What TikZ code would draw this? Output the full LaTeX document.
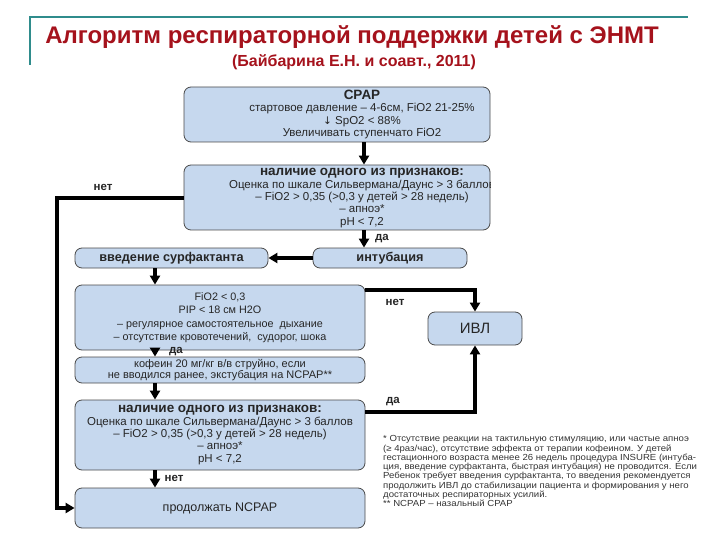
\documentclass[tikz,border=0pt]{standalone}
\usepackage{fontspec}
\setmainfont{Liberation Sans}
\newfontfamily\djv{DejaVu Sans}
\usetikzlibrary{arrows.meta}
\definecolor{boxfill}{HTML}{C6D8EE}
\definecolor{boxline}{HTML}{4A4A4A}
\definecolor{titlered}{HTML}{A5121C}
\definecolor{tealline}{HTML}{2F8C8C}
\newcommand\hdfont{\fontsize{13.5}{13}\selectfont\bfseries}
\tikzset{
  box/.style={draw=boxline, line width=0.8pt, fill=boxfill, rounded corners=7pt, align=center, inner sep=0.5pt, font=\fontsize{11.5}{12.3}\selectfont, text=black!85},
  boxtext/.style={align=center, inner sep=0pt, font=\fontsize{11.5}{12.3}\selectfont, text=black!85},
  flow/.style={line width=3.5pt, -{Triangle[length=9pt,width=10pt]}},
  lbl/.style={font=\fontsize{11.5}{12}\selectfont\bfseries, text=black!85, inner sep=0pt},
  head/.style={font=\fontsize{12.7}{13}\selectfont\bfseries}
}
\begin{document}
\begin{tikzpicture}[x=1pt,y=-1pt]
\useasboundingbox (0,0) rectangle (720,540);
% title frame
\draw[tealline, line width=1.5pt] (30,65) -- (30,17) -- (688,17);
\node[text=titlered, font=\fontsize{24}{26}\selectfont\bfseries] (title) at (352,37) {Алгоритм респираторной поддержки детей с ЭНМТ};
\node[text=titlered, font=\fontsize{16}{17}\selectfont\bfseries] (sub) at (354,62) {(Байбарина Е.Н. и соавт., 2011)};
% boxes
\node[box, minimum width=306pt, minimum height=55pt] (cpap) at (337,114.5) {};
\node[boxtext, font=\fontsize{11.5}{12.5}\selectfont] (cpapt) at (362,114.5) {{\hdfont CPAP}\\стартовое давление – 4-6см, FiO2 21-25\%\\{\djv\fontsize{10.5}{12}\selectfont ↓} SpO2 < 88\%\\Увеличивать ступенчато FiO2};
\node[box, minimum width=306pt, minimum height=65pt] (nal1) at (337,197.5) {};
\begin{scope}
\clip[rounded corners=7pt] (nal1.north west) rectangle (nal1.south east);
\node[boxtext] (nal1t) at (362,198) {{\hdfont наличие одного из признаков:}\\Оценка по шкале Сильвермана/Даунс > 3 баллов\\– FiO2 > 0,35 (>0,3 у детей > 28 недель)\\– апноэ*\\pH < 7,2};
\end{scope}
\node[box, minimum width=193pt, minimum height=20pt, head] (surf) at (171.5,258) {введение сурфактанта};
\node[box, minimum width=154pt, minimum height=20pt, head] (intub) at (390,258) {интубация};
\node[box, minimum width=290pt, minimum height=65pt, font=\fontsize{10.8}{13.5}\selectfont] (fio) at (220,317.5) {FiO2 < 0,3\\PIP < 18 см H2O\\– регулярное самостоятельное \ дыхание\\– отсутствие кровотечений, \ судорог, шока};
\node[box, minimum width=290pt, minimum height=26pt, font=\fontsize{11}{11.5}\selectfont] (kof) at (220,370) {кофеин 20 мг/кг в/в струйно, если\\не вводился ранее, экстубация на NCPAP**};
\node[box, minimum width=290pt, minimum height=70pt] (nal2) at (220,435) {{\hdfont наличие одного из признаков:}\\Оценка по шкале Сильвермана/Даунс > 3 баллов\\– FiO2 > 0,35 (>0,3 у детей > 28 недель)\\– апноэ*\\pH < 7,2};
\node[box, minimum width=290pt, minimum height=40pt, font=\fontsize{12.5}{13}\selectfont] (ncpap) at (220,508) {продолжать NCPAP};
\node[box, minimum width=94pt, minimum height=33pt, font=\fontsize{15}{16}\selectfont] (ivl) at (475,328.5) {ИВЛ};
% connectors
\draw[flow] ([xshift=27pt]cpap.south) -- ([xshift=27pt]cpap.south |- nal1.north);
\draw[flow] ([xshift=27pt]nal1.south) -- ([xshift=27pt]nal1.south |- intub.north);
\draw[flow] (intub.west) -- (surf.east);
\coordinate (lt) at (57,198);
\coordinate (lb) at (57,508);
\draw[flow] (nal1.west |- lt) -- (lt) -- (lb) -- (ncpap.west);
\draw[flow] ([xshift=-16.5pt]surf.south) -- ([xshift=-16.5pt]surf.south |- fio.north);
\coordinate (rt) at (475,290);
\draw[flow] (fio.east |- rt) -- (rt) -- (ivl.north);
\draw[flow] ([xshift=-65pt]fio.south) -- ([xshift=-65pt]fio.south |- kof.north);
\draw[flow] ([xshift=-65pt]kof.south) -- ([xshift=-65pt]kof.south |- nal2.north);
\coordinate (rb) at (475,412);
\draw[flow] (nal2.east |- rb) -- (rb) -- (ivl.south);
\draw[flow] ([xshift=-65pt]nal2.south) -- ([xshift=-65pt]nal2.south |- ncpap.north);
% labels
\node[lbl] (l1) at (103,187) {нет};
\node[lbl] (l2) at (382,239) {да};
\node[lbl] (l3) at (395,302) {нет};
\node[lbl] (l4) at (176,352) {да};
\node[lbl] (l5) at (393,402) {да};
\node[lbl] (l6) at (174,478) {нет};
% footnote
\node[anchor=north west, inner sep=0pt, text=black!80] (fn) at (383,435) {\scalebox{1.09}[1]{\fontsize{8.8}{9.3}\selectfont\begin{tabular}{@{}l@{}}* Отсутствие реакции на тактильную стимуляцию, или частые апноэ\\(≥ 4раз/час), отсутствие эффекта от терапии кофеином. У детей\\гестационного возраста менее 26 недель процедура INSURE (интуба-\\ция, введение сурфактанта, быстрая интубация) не проводится. Если\\Ребенок требует введения сурфактанта, то введения рекомендуется\\продолжить ИВЛ до стабилизации пациента и формирования у него\\достаточных респираторных усилий.\\{}** NCPAP – назальный CPAP\end{tabular}}};
\end{tikzpicture}
\end{document}
